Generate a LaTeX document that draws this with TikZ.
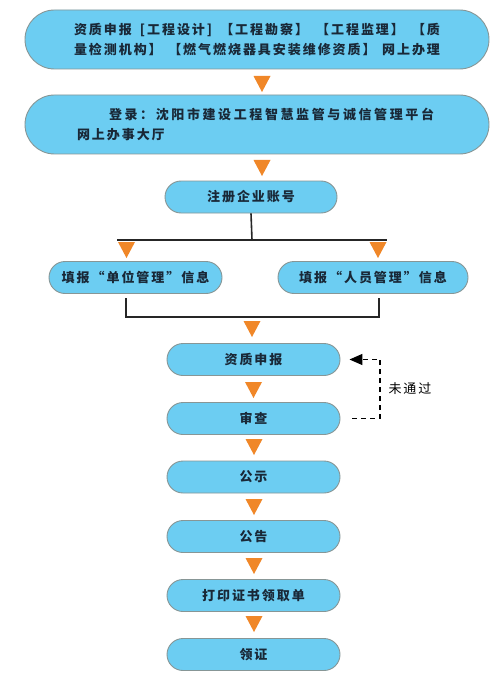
\documentclass[tikz,border=0pt]{standalone}
\usepackage{fontspec}
\newfontfamily\cjk{Noto Sans CJK SC}[LetterSpace=15]
\newfontfamily\cjkwide{Noto Sans CJK SC}[LetterSpace=20]
\usetikzlibrary{arrows.meta}
\definecolor{boxfill}{RGB}{108,205,242}
\definecolor{boxline}{RGB}{135,150,150}
\definecolor{triorange}{RGB}{240,135,40}
\definecolor{txt}{RGB}{25,40,55}
\tikzset{
  pill/.style={draw=boxline, line width=0.9pt, fill=boxfill, rounded corners=#1,
    inner sep=0pt, text=txt, font=\cjk\bfseries\fontsize{13}{19.5}\selectfont},
  bigbox/.style={pill=29.5pt, minimum width=464pt, minimum height=59pt, align=center},
  smallbox/.style={pill=16pt, minimum width=173pt, minimum height=32pt},
  tri/.style={fill=triorange, draw=none},
  conn/.style={line width=1.6pt, draw=black!85},
  fb/.style={line width=1.3pt, dash pattern=on 5pt off 4pt, -{Triangle[length=13pt,width=11pt]}},
  lbl/.style={font=\cjk\fontsize{13}{15}\selectfont, text=black, inner sep=0pt},
}
\newcommand\downtri[2]{\fill[tri] (#1-8.5,#2) -- (#1+8.5,#2) -- (#1,#2-16) -- cycle;}
\begin{document}
\begin{tikzpicture}[x=1pt,y=1pt]
\fill[white] (0,0) rectangle (500,-695);
\useasboundingbox (0,0) rectangle (500,-695);

\node[bigbox] (b1) at (257,-39.5) {\makebox[366pt][s]{资质申报 [工程设计] 【工程勘察】 【工程监理】 【质}\\\makebox[366pt][s]{量检测机构】 【燃气燃烧器具安装维修资质】 网上办理}};
\node[bigbox] (b2) at (257,-124.5) {\makebox[360pt][l]{\hspace{32pt}{\cjkwide\bfseries 登录：沈阳市建设工程智慧监管与诚信管理平台}}\\\makebox[360pt][l]{网上办事大厅}};
\node[smallbox, minimum width=172pt] (b3) at (251,-197) {注册企业账号};
\node[smallbox, minimum width=173pt] (b4l) at (135.5,-277.5) {填报“单位管理”信息};
\node[smallbox, minimum width=190pt] (b4r) at (373,-277.5) {填报“人员管理”信息};
\node[smallbox] (b5) at (253.5,-359.5) {资质申报};
\node[smallbox] (b6) at (253.5,-418.5) {审查};
\node[smallbox] (b7) at (253.5,-477) {公示};
\node[smallbox] (b8) at (253.5,-536.5) {公告};
\node[smallbox] (b9) at (253.5,-595.5) {打印证书领取单};
\node[smallbox] (b10) at (253.5,-654.5) {领证};

\downtri{262}{-76}
\downtri{262}{-160}
\downtri{126.5}{-242}
\downtri{378}{-242}
\downtri{252}{-321}
\downtri{253.5}{-382}
\downtri{254}{-439}
\downtri{254}{-499}
\downtri{254}{-558}
\downtri{254}{-616}

\coordinate (j) at (252,-240);
\coordinate (jl) at (117,-240);
\coordinate (jr) at (387,-240);
\draw[conn] (b3.south) -- (j);
\draw[conn] (jl) -- (jr);

\coordinate (bl) at (126,-298);
\coordinate (br) at (379,-298);
\coordinate (bm) at (252,-317);
\draw[conn] (bl) |- (bm) -| (br);

\coordinate (fbs) at ([xshift=12pt]b6.east);
\coordinate (fbc1) at (380,-418.5);
\coordinate (fbc2) at (380,-359.5);
\coordinate (fbe) at ([xshift=9pt]b5.east);
\draw[fb] (fbs) -- (fbc1) -- (fbc2) -- (fbe);
\node[lbl] (wtg) at (410,-389) {未通过};
\end{tikzpicture}
\end{document}
